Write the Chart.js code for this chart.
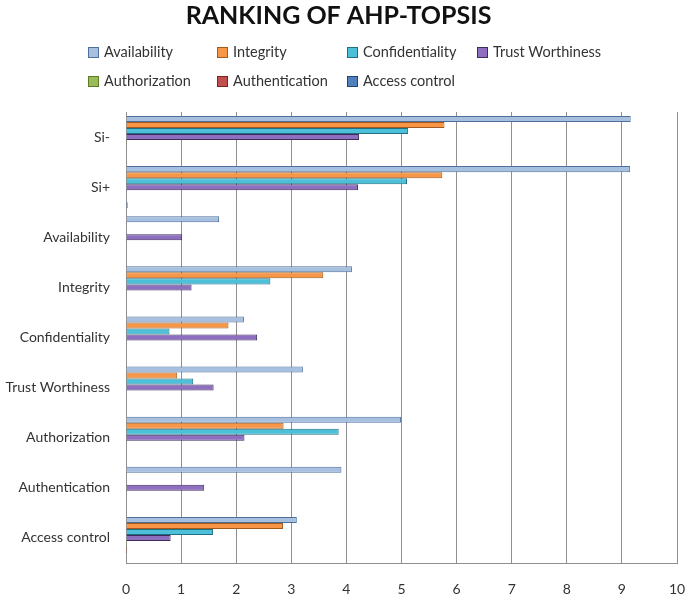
<!DOCTYPE html>
<html>
<head>
<meta charset="utf-8">
<script src="https://cdn.jsdelivr.net/npm/chart.js@4"></script>
<style>
  body { margin: 0; background: #fff; }
  #wrap { position: relative; width: 685px; height: 596px; }
  #legend {
    position: absolute; left: 88px; top: 43px;
    display: grid; grid-template-columns: 129px 130px 130px 150px;
    row-gap: 12px;
    font-family: Lato, "Open Sans", sans-serif; font-size: 14.5px; color: #333;
  }
  #legend span.box {
    display: inline-block; width: 9px; height: 9px; margin-right: 5px;
    border: 1px solid; vertical-align: -1px;
  }
</style>
</head>
<body>
<div id="wrap">
  <canvas id="chart" width="685" height="596"></canvas>
  <div id="legend"></div>
</div>
<script>
// categories (top to bottom)
const categories = ["Si-", "Si+", "Availability", "Integrity", "Confidentiality",
  "Trust Worthiness", "Authorization", "Authentication", "Access control"];

// series values, one per category
const availability    = [9.16, 9.15, 1.69, 4.10, 2.14, 3.21, 4.99, 3.91, 3.10];
const integrity       = [5.78, 5.74, 0, 3.58, 1.86, 0.93, 2.86, 0, 2.85];
const confidentiality = [5.12, 5.10, 0, 2.62, 0.79, 1.22, 3.86, 0, 1.58];
const trustWorthiness = [4.23, 4.21, 1.02, 1.19, 2.38, 1.59, 2.15, 1.42, 0.81];
const authorization   = [0.02, 0.01, 0, 0, 0, 0.01, 0, 0, 0.02];
const authentication  = [0.01, 0.01, 0, 0, 0, 0, 0, 0, 0.02];
const accessControl   = [0.01, 0.03, 0, 0, 0, 0, 0, 0, 0];

const xTicks = [0, 1, 2, 3, 4, 5, 6, 7, 8, 9, 10];

const series = [
  { name: "Availability", data: availability, fill: "#a7c0e0", edge: "#4f6f9b" },
  { name: "Integrity", data: integrity, fill: "#f79646", edge: "#a35a1c" },
  { name: "Confidentiality", data: confidentiality, fill: "#4bc0d8", edge: "#226f82" },
  { name: "Trust Worthiness", data: trustWorthiness, fill: "#8e6fbf", edge: "#3f2b5c" },
  { name: "Authorization", data: authorization, fill: "#9bbb59", edge: "#5d7a25" },
  { name: "Authentication", data: authentication, fill: "#c0504d", edge: "#7d2422" },
  { name: "Access control", data: accessControl, fill: "#4f81bd", edge: "#22466f" }
];

// html legend in columns like the original
let legendHTML = '';
series.forEach(s => {
  legendHTML += `<div><span class="box" style="background:${s.fill};border-color:${s.edge}"></span>${s.name}</div>`;
});
document.getElementById("legend").innerHTML = legendHTML;

const ctx = document.getElementById('chart').getContext('2d');

new Chart(ctx, {
  type: 'bar',
  data: {
    labels: categories,
    datasets: series.map(s => ({
      label: s.name,
      data: s.data,
      backgroundColor: s.fill,
      borderColor: s.edge,
      borderWidth: 1,
      borderSkipped: 'left',
      categoryPercentage: 0.84,
      barPercentage: 1
    }))
  },
  options: {
    indexAxis: 'y',
    responsive: false,
    animation: false,
    layout: { padding: { left: 0, right: 8, top: 0, bottom: 0 } },
    plugins: {
      legend: { display: false },
      tooltip: { enabled: false },
      title: {
        display: true,
        text: 'RANKING OF AHP-TOPSIS',
        color: '#111',
        font: { family: 'Lato, "Open Sans", sans-serif', size: 25, weight: 'bold' },
        padding: { top: 1, bottom: 81 }
      }
    },
    scales: {
      x: {
        min: 0,
        max: 10,
        afterBuildTicks: scale => { scale.ticks = xTicks.map(v => ({ value: v })); },
        afterFit: scale => { scale.height = 33; scale.paddingRight = 0; },
        grid: { color: '#8f8f8f', drawTicks: false },
        border: { color: '#8f8f8f' },
        ticks: {
          padding: 18,
          color: '#333',
          font: { family: 'Lato, "Open Sans", sans-serif', size: 14 }
        }
      },
      y: {
        afterFit: scale => { scale.width = 126; },
        grid: { display: false, drawTicks: false },
        border: { color: '#8f8f8f' },
        ticks: {
          padding: 16,
          color: '#333',
          font: { family: 'Lato, "Open Sans", sans-serif', size: 14 }
        }
      }
    }
  }
});
</script>
</body>
</html>
